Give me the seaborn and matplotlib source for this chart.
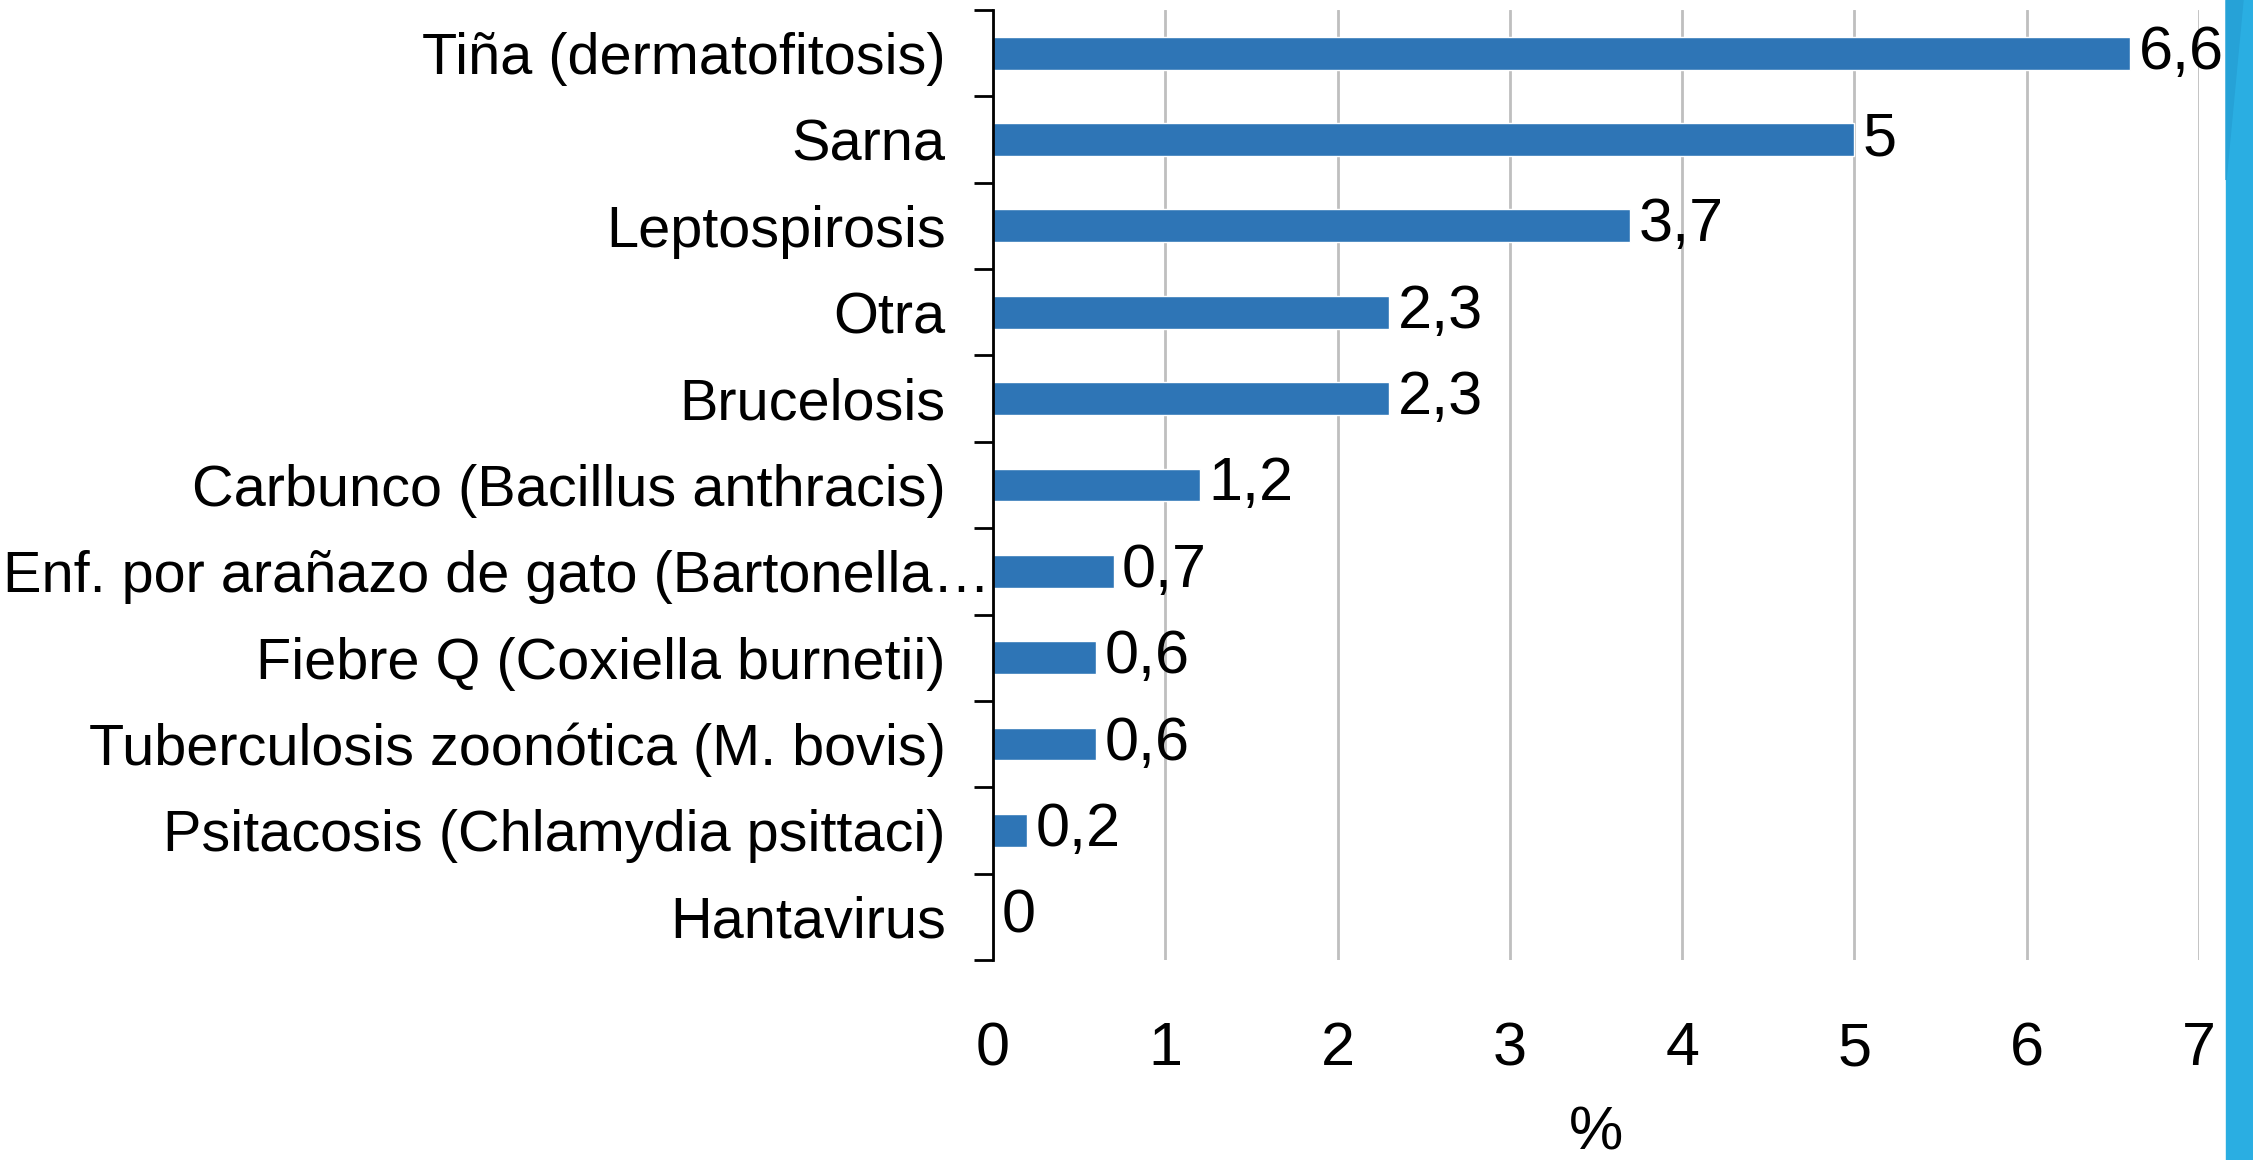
import matplotlib
matplotlib.use("Agg")
import matplotlib.pyplot as plt
import matplotlib.font_manager as fm
from matplotlib.patches import Rectangle, Polygon
import pandas as pd
import seaborn as sns

# Data
categories = [
    "Tiña (dermatofitosis)",
    "Sarna",
    "Leptospirosis",
    "Otra",
    "Brucelosis",
    "Carbunco (Bacillus anthracis)",
    "Enf. por arañazo de gato (Bartonella…",
    "Fiebre Q (Coxiella burnetii)",
    "Tuberculosis zoonótica (M. bovis)",
    "Psitacosis (Chlamydia psittaci)",
    "Hantavirus",
]
values = [6.6, 5, 3.7, 2.3, 2.3, 1.2, 0.7, 0.6, 0.6, 0.2, 0]
x_ticks = [0, 1, 2, 3, 4, 5, 6, 7]
x_label = "%"


def pick_font():
    names = {f.name for f in fm.fontManager.ttflist}
    for name in ["Liberation Sans Narrow", "Arial Narrow", "Liberation Sans"]:
        if name in names:
            return name
    return "DejaVu Sans"


def main():
    df = pd.DataFrame({"cat": categories, "val": values})

    sns.set_theme(style="white")
    font = pick_font()
    plt.rcParams["font.family"] = [font, "DejaVu Sans"]
    plt.rcParams["text.color"] = "black"
    plt.rcParams["axes.labelcolor"] = "black"
    plt.rcParams["xtick.color"] = "black"
    plt.rcParams["ytick.color"] = "black"
    narrow = "Narrow" in font
    lab_size = 46 if narrow else 41.5
    num_size = 50 if narrow else 44

    fig = plt.figure(figsize=(22.53, 11.6), dpi=100)
    ax = fig.add_axes([993 / 2253, 1 - 960 / 1160, (2199 - 993) / 2253, 950 / 1160])

    sns.barplot(data=df, x="val", y="cat", orient="h", color="#2E75B6",
                width=0.38, saturation=1, ax=ax)

    ax.set_xlim(0, 7)
    ax.set_ylim(10.5, -0.5)
    ax.set_xticks(x_ticks)
    ax.set_xticklabels([str(t) for t in x_ticks], fontsize=num_size)
    ax.tick_params(axis="x", length=0, pad=44, labelcolor="black")
    ax.set_xlabel(x_label, fontsize=num_size, labelpad=20)
    ax.set_ylabel("")
    ax.grid(axis="x", color="#bfbfbf", linewidth=2)
    ax.set_axisbelow(True)

    for side in ["top", "right", "bottom"]:
        ax.spines[side].set_visible(False)
    ax.spines["left"].set_color("black")
    ax.spines["left"].set_linewidth(2)

    # tick marks sit between the categories, labels stay centred on the bars
    ax.set_yticks([i + 0.5 for i in range(-1, len(categories))], minor=True)
    ax.tick_params(axis="y", which="minor", left=True, length=14, width=2, color="black")
    ax.tick_params(axis="y", which="major", length=0, pad=34, labelsize=lab_size,
                   labelcolor="black")
    ax.set_yticklabels(categories)
    # the truncated label runs right up to the axis
    ax.yaxis.get_major_ticks()[6].set_pad(2)

    labels = [str(v).replace(".", ",") if v % 1 else str(int(v)) for v in values]
    ax.bar_label(ax.containers[0], labels=labels, padding=6, fontsize=num_size,
                 color="black")

    # blue band on the right edge
    fig.patches.append(Rectangle((2226 / 2253, 0), 1, 1, transform=fig.transFigure,
                                 color="#2aaee2", zorder=0))
    fig.patches.append(Polygon([(2226 / 2253, 1), (2243 / 2253, 1), (2226 / 2253, 1 - 180 / 1160)],
                               closed=True, transform=fig.transFigure, color="#26a2d7", zorder=1))

    fig.savefig("out.png", dpi=100, facecolor="white")


if __name__ == "__main__":
    main()
